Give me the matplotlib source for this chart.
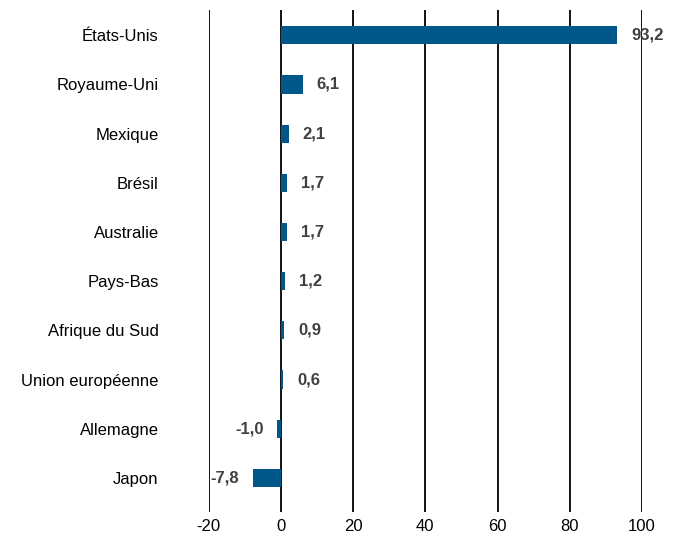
import matplotlib.pyplot as plt
import numpy as np

# Données
pays = ['États-Unis', 'Royaume-Uni', 'Mexique', 'Brésil', 'Australie',
        'Pays-Bas', 'Afrique du Sud', 'Union européenne', 'Allemagne', 'Japon']
valeurs = [93.2, 6.1, 2.1, 1.7, 1.7, 1.2, 0.9, 0.6, -1.0, -7.8]
ticks_x = [-20, 0, 20, 40, 60, 80, 100]

plt.rcParams['font.family'] = ['Liberation Sans Narrow', 'Liberation Sans', 'DejaVu Sans']

fig = plt.figure(figsize=(6.8, 5.36), dpi=100)
ax = fig.add_axes([0.307, 0.045, 0.637, 0.936])

y = np.arange(len(pays))
ax.barh(y, valeurs, height=0.37, color='#00578a', zorder=3)

for yi, v in zip(y, valeurs):
    txt = f'{v:.1f}'.replace('.', ',')
    if v >= 0:
        ax.annotate(txt, (v, yi), xytext=(10, 0), textcoords='offset points',
                    ha='left', va='center', fontsize=12, fontweight='bold',
                    color='#404040', zorder=4)
    else:
        ax.annotate(txt, (v, yi), xytext=(-10, 0), textcoords='offset points',
                    ha='right', va='center', fontsize=12, fontweight='bold',
                    color='#404040', zorder=4)

ax.set_xlim(-20, 100)
ax.set_ylim(9.69, -0.51)
ax.set_xticks(ticks_x)
ax.set_xticklabels([str(t) for t in ticks_x])
ax.set_yticks(y)
ax.set_yticklabels(pays)
ax.grid(True, axis='x', color='black', linewidth=1.3, zorder=1)
ax.tick_params(axis='both', length=0, labelsize=12)
ax.tick_params(axis='y', pad=36)
ax.tick_params(axis='x', pad=5)
for s in ax.spines.values():
    s.set_visible(False)

fig.savefig('out.png', dpi=100)
